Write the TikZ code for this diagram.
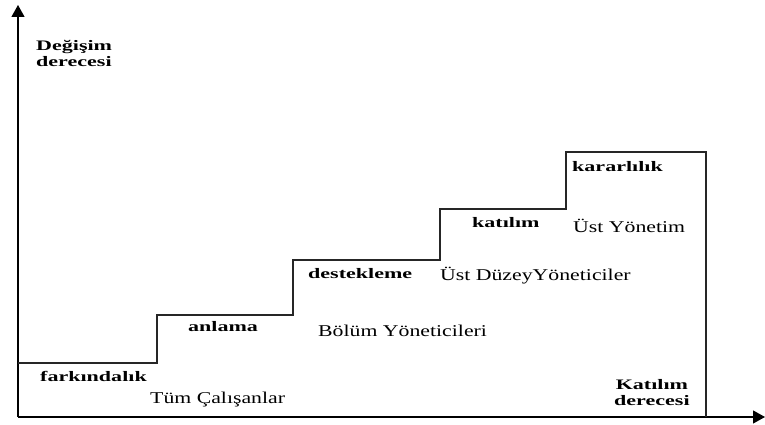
\documentclass[tikz,border=0pt]{standalone}
\usepackage{fontspec}
\setmainfont{Liberation Serif}
\newfontfamily\widereg[FakeStretch=1.32]{Liberation Serif}
\newfontfamily\widebold[FakeStretch=1.52]{Liberation Serif}
\usetikzlibrary{arrows.meta}
\begin{document}
\begin{tikzpicture}[x=1pt,y=-1pt,
  axis/.style={line width=1.1pt,-{Triangle[length=12pt,width=13pt]}},
  stair/.style={line width=1.1pt,draw=black!85},
  lvl/.style={font=\widebold\fontsize{14.5}{16}\selectfont\bfseries,anchor=base west,inner sep=0pt},
  grp/.style={font=\widereg\fontsize{16.5}{18}\selectfont,anchor=base west,inner sep=0pt},
  axlbl/.style={font=\widebold\fontsize{14.5}{16}\selectfont\bfseries,inner sep=0pt}]
\useasboundingbox (0,0) rectangle (765,425);
\coordinate (O) at (18,417);
\coordinate (ytop) at (18,5);
\coordinate (xend) at (765,417);
\draw[axis] (O) -- (ytop);
\draw[axis] (O) -- (xend);
\draw[stair] (18,363) -- (157,363) -- (157,315) -- (293,315) -- (293,260)
  -- (440,260) -- (440,209) -- (566,209) -- (566,152) -- (706,152) -- (706,417);
\node[axlbl,anchor=north west,align=left] (ylab) at (36,40) {Değişim\\derecesi};
\node[axlbl,anchor=north west,align=center] (xlab) at (614,379) {Katılım\\derecesi};
\node[lvl] (l1) at (40,381) {farkındalık};
\node[lvl] (l2) at (188,331) {anlama};
\node[lvl] (l3) at (308,278) {destekleme};
\node[lvl] (l4) at (472,227) {katılım};
\node[lvl] (l5) at (572,171) {kararlılık};
\node[grp] (g1) at (150,403) {Tüm Çalışanlar};
\node[grp] (g2) at (318,336) {Bölüm Yöneticileri};
\node[grp] (g3) at (440,280) {Üst DüzeyYöneticiler};
\node[grp] (g4) at (573,232) {Üst Yönetim};
\end{tikzpicture}
\end{document}
